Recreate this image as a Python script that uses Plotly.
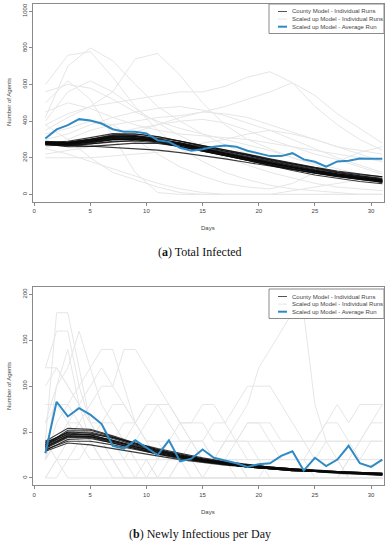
import plotly.graph_objects as go

# ---------------- DATA ----------------
days_all = list(range(1, 32))
days_odd = list(range(1, 32, 2))

# Panel (a) Total Infected
avg_total = [305, 355, 378, 411, 404, 387, 356, 342, 342, 333, 296, 287, 255, 238, 247, 260,
             267, 260, 238, 224, 209, 209, 225, 191, 178, 151, 180, 184, 196, 195, 195]

county_total = [
    [285, 280, 295, 315, 318, 300, 275, 248, 222, 196, 170, 146, 124, 104, 88, 75],
    [275, 272, 285, 300, 300, 288, 262, 238, 212, 186, 160, 136, 116, 96, 80, 66],
    [290, 285, 300, 325, 330, 315, 290, 262, 236, 212, 188, 164, 140, 120, 102, 88],
    [270, 265, 275, 290, 292, 282, 260, 236, 213, 190, 167, 145, 125, 106, 90, 76],
    [280, 275, 292, 310, 308, 293, 268, 242, 216, 190, 164, 140, 118, 98, 82, 68],
    [283, 290, 310, 332, 330, 316, 292, 266, 240, 215, 192, 168, 145, 124, 108, 96],
    [278, 270, 262, 255, 250, 242, 228, 212, 194, 174, 154, 134, 116, 98, 84, 70],
    [285, 282, 300, 318, 320, 308, 290, 268, 245, 220, 195, 170, 148, 128, 110, 96],
    [272, 268, 280, 298, 302, 292, 268, 240, 210, 182, 156, 130, 106, 86, 70, 58],
    [288, 280, 290, 305, 310, 298, 272, 246, 222, 198, 174, 150, 128, 108, 92, 78],
    [276, 275, 288, 302, 300, 286, 260, 235, 210, 185, 160, 137, 117, 99, 84, 70],
    [280, 283, 298, 312, 314, 302, 280, 255, 230, 205, 180, 155, 133, 113, 96, 82],
    [275, 260, 262, 272, 280, 278, 262, 240, 216, 192, 168, 144, 122, 102, 86, 72],
    [282, 278, 294, 308, 306, 294, 270, 246, 220, 195, 170, 147, 126, 107, 90, 76],
    [279, 274, 286, 318, 322, 305, 276, 250, 224, 198, 172, 148, 126, 105, 88, 73],
    [286, 276, 283, 300, 305, 296, 274, 250, 226, 202, 178, 154, 132, 112, 95, 80],
    [281, 286, 302, 320, 316, 300, 282, 260, 238, 214, 186, 160, 138, 118, 100, 84],
    [274, 268, 276, 286, 296, 296, 280, 252, 224, 196, 170, 150, 130, 110, 92, 64],
]

scaled_total = [
    [420, 700, 800, 730, 600, 480, 400, 330, 270, 220, 180, 150, 120, 100, 80, 60],
    [350, 420, 480, 560, 740, 770, 650, 500, 380, 300, 250, 200, 160, 120, 90, 70],
    [380, 440, 480, 500, 520, 540, 560, 560, 590, 640, 670, 610, 480, 380, 300, 240],
    [250, 300, 350, 380, 400, 420, 430, 450, 480, 520, 560, 610, 540, 440, 360, 280],
    [500, 620, 520, 320, 120, 10, 0, 0, 0, 0, 0, 0, 0, 0, 0, 0],
    [560, 600, 580, 520, 450, 400, 360, 330, 300, 270, 240, 200, 170, 140, 110, 90],
    [300, 330, 380, 420, 450, 470, 480, 460, 430, 390, 350, 300, 250, 200, 160, 120],
    [400, 560, 620, 560, 470, 390, 320, 260, 200, 160, 120, 90, 60, 40, 30, 20],
    [250, 220, 180, 140, 100, 60, 30, 10, 0, 0, 0, 0, 0, 0, 0, 0],
    [220, 240, 260, 300, 340, 380, 420, 450, 440, 420, 380, 340, 300, 260, 220, 180],
    [200, 200, 200, 210, 220, 230, 250, 280, 300, 330, 350, 330, 300, 260, 240, 220],
    [450, 500, 470, 420, 380, 350, 330, 320, 310, 300, 280, 260, 240, 220, 200, 180],
    [330, 360, 400, 380, 300, 220, 150, 100, 60, 40, 30, 60, 120, 180, 230, 260],
    [260, 280, 300, 330, 360, 380, 400, 410, 390, 350, 300, 260, 220, 190, 150, 110],
    [600, 760, 780, 640, 480, 350, 250, 180, 120, 80, 50, 30, 20, 10, 0, 0],
    [380, 300, 200, 120, 80, 40, 10, 0, 0, 0, 0, 20, 40, 60, 80, 100],
]

# Panel (b) Newly Infectious per Day
avg_new = [27, 83, 67, 76, 69, 59, 35, 32, 41, 33, 25, 41, 18, 21, 31, 22,
           19, 16, 12, 15, 16, 24, 29, 8, 22, 13, 20, 35, 16, 12, 20]

county_new = [
    [33, 45, 45, 40, 34, 28, 23, 19, 16, 13, 11, 9, 8, 6, 5, 4],
    [38, 50, 49, 43, 36, 30, 25, 20, 17, 14, 12, 10, 8, 7, 6, 5],
    [30, 42, 43, 38, 32, 27, 22, 18, 15, 12, 10, 9, 7, 6, 5, 4],
    [36, 52, 52, 45, 37, 30, 24, 20, 16, 13, 11, 9, 7, 6, 5, 3],
    [34, 46, 46, 41, 35, 29, 24, 20, 17, 14, 12, 10, 9, 7, 6, 5],
    [40, 54, 53, 46, 38, 31, 25, 21, 17, 14, 11, 9, 8, 6, 5, 4],
    [31, 40, 40, 36, 31, 26, 21, 18, 15, 12, 10, 8, 7, 6, 5, 4],
    [35, 48, 47, 41, 34, 28, 23, 19, 15, 12, 10, 8, 7, 5, 4, 3],
    [37, 47, 48, 44, 38, 32, 27, 22, 18, 15, 12, 10, 8, 7, 6, 5],
    [32, 44, 44, 38, 32, 26, 22, 18, 15, 12, 10, 9, 7, 6, 5, 4],
    [39, 49, 47, 40, 34, 29, 24, 19, 16, 13, 11, 9, 8, 6, 5, 4],
    [29, 38, 36, 32, 28, 24, 20, 17, 14, 12, 10, 8, 7, 6, 5, 4],
    [36, 50, 50, 44, 37, 31, 26, 21, 17, 14, 12, 10, 8, 7, 6, 5],
    [34, 46, 45, 39, 33, 27, 22, 18, 15, 12, 10, 8, 7, 6, 4, 3],
]

scaled_new = [
    [40, 180, 180, 120, 60, 40, 20, 20, 0, 0, 0, 0, 20, 20, 0, 0, 0, 0, 0, 0, 0, 0, 0, 0, 0, 0, 0, 0, 0, 0, 0],
    [120, 160, 160, 100, 60, 40, 40, 20, 20, 0, 0, 20, 20, 0, 0, 0, 0, 0, 0, 0, 0, 0, 0, 0, 0, 0, 0, 0, 0, 0, 0],
    [60, 100, 120, 160, 120, 80, 60, 40, 20, 20, 0, 0, 0, 0, 0, 0, 0, 0, 0, 0, 0, 0, 0, 0, 0, 0, 0, 0, 0, 0, 0],
    [20, 60, 80, 100, 120, 140, 140, 100, 60, 40, 40, 20, 20, 20, 0, 0, 0, 0, 0, 0, 0, 0, 0, 0, 0, 0, 0, 0, 0, 0, 0],
    [40, 40, 60, 80, 100, 120, 100, 140, 140, 120, 100, 80, 60, 40, 40, 20, 20, 20, 0, 0, 0, 0, 0, 0, 0, 0, 0, 0, 0, 0, 0],
    [120, 120, 100, 80, 60, 60, 40, 40, 60, 80, 80, 60, 40, 40, 20, 20, 20, 20, 0, 0, 0, 0, 0, 0, 0, 0, 0, 0, 0, 0, 0],
    [0, 20, 40, 60, 40, 20, 20, 0, 0, 0, 0, 0, 0, 0, 0, 20, 40, 60, 80, 120, 140, 160, 180, 180, 80, 40, 20, 0, 0, 0, 0],
    [20, 40, 40, 60, 80, 100, 100, 80, 60, 40, 20, 20, 20, 40, 40, 60, 60, 80, 100, 100, 100, 80, 60, 40, 20, 20, 20, 0, 0, 0, 0],
    [0, 20, 20, 40, 40, 60, 80, 80, 60, 40, 40, 40, 20, 20, 20, 20, 40, 40, 60, 60, 60, 40, 40, 40, 40, 60, 80, 60, 80, 80, 80],
    [20, 40, 60, 60, 40, 40, 40, 60, 60, 80, 80, 80, 60, 60, 80, 80, 60, 40, 40, 20, 20, 20, 20, 20, 20, 40, 40, 40, 40, 60, 60],
    [40, 20, 0, 0, 0, 0, 0, 0, 0, 0, 20, 40, 60, 60, 60, 40, 40, 40, 20, 20, 0, 0, 0, 0, 0, 0, 0, 20, 40, 60, 80],
    [60, 80, 80, 60, 40, 20, 20, 20, 40, 60, 80, 80, 60, 40, 20, 20, 20, 40, 60, 60, 40, 20, 20, 20, 40, 60, 60, 40, 20, 20, 20],
    [0, 0, 20, 20, 40, 60, 60, 40, 20, 20, 0, 0, 0, 0, 0, 0, 0, 0, 0, 0, 0, 0, 0, 0, 0, 0, 0, 20, 20, 40, 40],
    [20, 100, 140, 80, 40, 20, 0, 0, 0, 20, 20, 40, 40, 40, 40, 20, 20, 0, 0, 0, 20, 20, 20, 20, 0, 0, 0, 0, 0, 0, 0],
    [80, 80, 60, 40, 20, 20, 20, 20, 20, 20, 20, 20, 20, 20, 20, 20, 20, 20, 20, 20, 20, 20, 20, 20, 20, 20, 20, 20, 20, 20, 20],
    [100, 120, 100, 80, 60, 40, 20, 0, 0, 0, 0, 0, 20, 20, 20, 20, 40, 40, 40, 40, 40, 40, 40, 40, 40, 40, 40, 40, 40, 40, 40],
]

x_ticks = [0, 5, 10, 15, 20, 25, 30]
y_ticks_total = [0, 200, 400, 600, 800, 1000]
y_ticks_new = [0, 50, 100, 150, 200]

legend_names = ["County Model - Individual Runs",
                "Scaled up Model - Individual Runs",
                "Scaled up Model - Average Run"]
captions = ["(<b>a</b>) Total Infected", "(<b>b</b>) Newly Infectious per Day"]

# ---------------- STYLE ----------------
W, H = 388, 550
BLACK = "rgba(10,10,10,0.8)"
GREY = "#e6e6e6"
BLUE = "#2f8ac4"
SANS = "Liberation Sans, Arial, sans-serif"
SERIF = "Liberation Serif, Times New Roman, serif"
TXT = "#444444"
FRAME = "#8a8a8a"
legend_colors = [("#555555", 1), (GREY, 1), (BLUE, 2)]


def px_x(v):
    return v / W


def px_y(v):
    return 1 - v / H


fig = go.Figure()


def add_panel(xa, ya, scaled, scaled_days, county, county_days, avg):
    for run in scaled:
        fig.add_trace(go.Scatter(x=scaled_days, y=run, mode="lines",
                                 line=dict(color=GREY, width=1), name=legend_names[1],
                                 showlegend=False, xaxis=xa, yaxis=ya, hoverinfo="skip"))
    for run in county:
        fig.add_trace(go.Scatter(x=county_days, y=run, mode="lines",
                                 line=dict(color=BLACK, width=1.1), name=legend_names[0],
                                 showlegend=False, xaxis=xa, yaxis=ya, hoverinfo="skip"))
    fig.add_trace(go.Scatter(x=days_all, y=avg, mode="lines",
                             line=dict(color=BLUE, width=2), name=legend_names[2],
                             showlegend=False, xaxis=xa, yaxis=ya, hoverinfo="skip"))


add_panel("x", "y", scaled_total, days_odd, county_total, days_odd, avg_total)
add_panel("x2", "y2", scaled_new, days_all, county_new, days_odd, avg_new)

x_dom = [px_x(33), px_x(384)]
top_dom = [px_y(201.7), px_y(4)]
bot_dom = [px_y(485.3), px_y(287)]

axis_common = dict(showgrid=False, zeroline=False, showline=True, mirror=True,
                   linecolor=FRAME, linewidth=1, ticks="outside", ticklen=3,
                   tickcolor=FRAME, automargin=False,
                   tickfont=dict(family=SANS, size=6, color=TXT))

fig.update_layout(
    width=W, height=H, margin=dict(l=0, r=0, t=0, b=0),
    paper_bgcolor="white", plot_bgcolor="white", showlegend=False,
    xaxis=dict(domain=x_dom, anchor="y", range=[-0.1, 31.15],
               tickvals=x_ticks, **axis_common),
    yaxis=dict(domain=top_dom, anchor="x", range=[-40, 1040],
               tickvals=y_ticks_total, tickangle=-90, **axis_common),
    xaxis2=dict(domain=x_dom, anchor="y2", range=[-0.1, 31.15],
                tickvals=x_ticks, **axis_common),
    yaxis2=dict(domain=bot_dom, anchor="x2", range=[-8, 208],
                tickvals=y_ticks_new, tickangle=-90, **axis_common),
)

# Manual legends (pixel-placed boxes)
for top in (4, 289):
    fig.add_shape(type="rect", xref="paper", yref="paper",
                  x0=px_x(269), x1=px_x(384), y0=px_y(top), y1=px_y(top + 29.5),
                  line=dict(color=FRAME, width=1), fillcolor="white", layer="above")
    for k, (name, (col, wid)) in enumerate(zip(legend_names, legend_colors)):
        yy = top + 7.5 + k * 7.6
        fig.add_shape(type="line", xref="paper", yref="paper",
                      x0=px_x(278), x1=px_x(287), y0=px_y(yy), y1=px_y(yy),
                      line=dict(color=col, width=wid), layer="above")
        fig.add_annotation(text=name, x=px_x(290), y=px_y(yy), xref="paper", yref="paper",
                           showarrow=False, xanchor="left", yanchor="middle",
                           font=dict(family=SANS, size=6, color=TXT))

annots = [
    dict(text="Days", x=px_x(208), y=px_y(228)),
    dict(text="Days", x=px_x(208), y=px_y(512)),
    dict(text="Number of Agents", x=px_x(9), y=px_y(102), textangle=-90),
    dict(text="Number of Agents", x=px_x(9), y=px_y(386), textangle=-90),
]
for a in annots:
    fig.add_annotation(xref="paper", yref="paper", showarrow=False,
                       font=dict(family=SANS, size=6, color=TXT),
                       xanchor="center", yanchor="middle", **a)

for cap, yy in zip(captions, (252, 534)):
    fig.add_annotation(text=cap, x=px_x(200), y=px_y(yy), xref="paper", yref="paper",
                       showarrow=False, xanchor="center", yanchor="middle",
                       font=dict(family=SERIF, size=12, color="#111111"))

# The page's default 8px body margin would shift the whole figure; remove it.
fig.write_html("out.html", config={"displayModeBar": False},
               post_script="document.body.style.margin='0px';")
